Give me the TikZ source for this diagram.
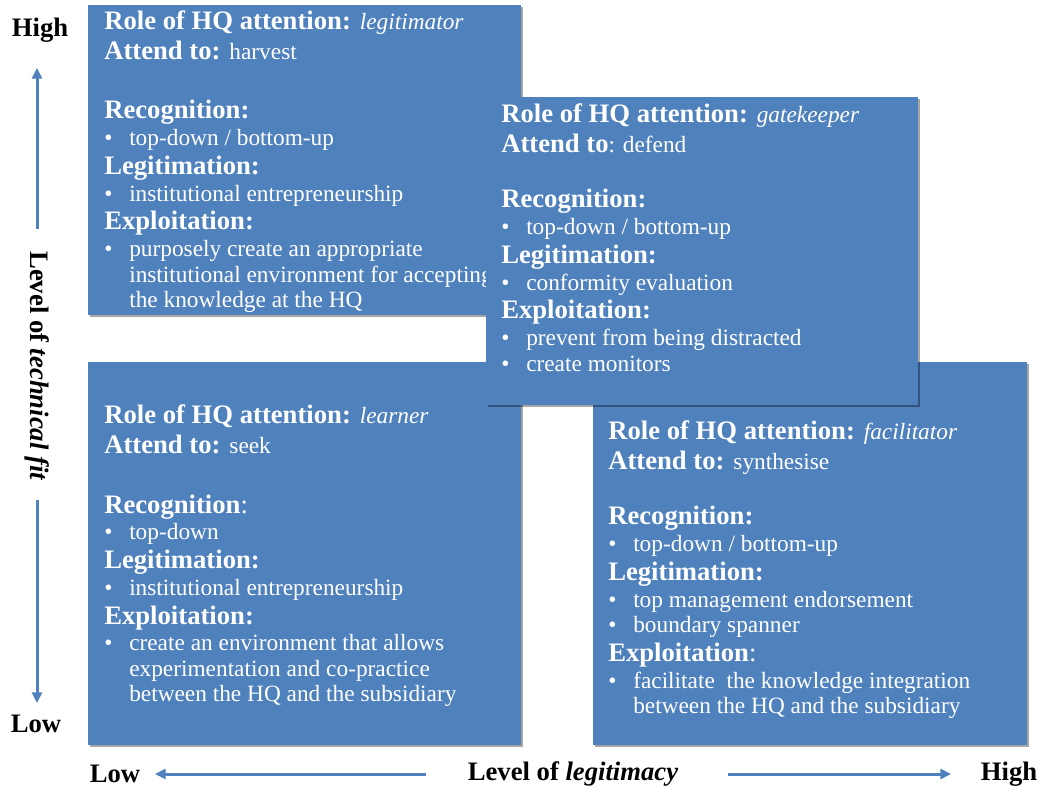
\documentclass[tikz,border=0pt]{standalone}
\usepackage{fontspec}
\setmainfont{Liberation Serif}
\usetikzlibrary{arrows.meta,shadows}
\definecolor{qblue}{HTML}{4F81BD}
% fonts: bold headings and regular body lines
\newcommand\hdf{\fontsize{20}{21.375}\selectfont\bfseries\upshape}
\newcommand\bdf{\fontsize{17.5}{19.125}\selectfont\mdseries\upshape}
% one line per paragraph, so each keeps its own baseline skip
\newcommand\qhead[1]{\hdf #1\par\vspace{1.125pt}}
\newcommand\qbul[1]{\bdf\makebox[18.75pt][l]{\textbullet}#1\par}
\newcommand\qcont[1]{\bdf\hspace*{18.75pt}#1\par}
\newcommand\qrole[1]{{\bdf\itshape #1}}
\newcommand\qplain[1]{{\bdf #1}}
\tikzset{
  quad/.style={fill=qblue, drop shadow={shadow xshift=1.5pt, shadow yshift=-1.5pt, opacity=0.35, fill=black}},
  boxtext/.style={anchor=base west, inner sep=0pt, text=white},
  axl/.style={inner sep=0pt, font=\fontsize{20}{24}\selectfont\bfseries},
  axarrow/.style={draw=qblue, line width=2.25pt, -{Triangle[length=8pt,width=7.5pt]}}
}
\begin{document}
\begin{tikzpicture}[x=0.75pt,y=-0.75pt]
\useasboundingbox[fill=white] (0,0) rectangle (1040,788);

% top left quadrant
\path[quad] (88,5) rectangle (521,315);
\node[boxtext] (tTL) at (104,30) {\begin{minipage}[t]{420pt}
\qhead{Role of HQ attention: \qrole{legitimator}}
\qhead{Attend to: \qplain{harvest}}
\vspace{21.75pt}
\qhead{Recognition:}
\qbul{top-down / bottom-up}
\qhead{Legitimation:}
\qbul{institutional entrepreneurship}
\qhead{Exploitation:}
\qbul{purposely create an appropriate}
\qcont{institutional environment for accepting}
\qcont{the knowledge at the HQ}
\end{minipage}};

% bottom left quadrant
\path[quad] (88,362) rectangle (521,745);
\node[boxtext] (tBL) at (104,423) {\begin{minipage}[t]{420pt}
\qhead{Role of HQ attention: \qrole{learner}}
\qhead{Attend to: \qplain{seek}}
\vspace{22.5pt}
\qhead{Recognition\mdseries:}
\qbul{top-down}
\qhead{Legitimation:}
\qbul{institutional entrepreneurship}
\qhead{Exploitation:}
\qbul{create an environment that allows}
\qcont{experimentation and co-practice}
\qcont{between the HQ and the subsidiary}
\end{minipage}};

% bottom right quadrant
\path[quad] (593,362) rectangle (1027,745);
\node[boxtext] (tBR) at (608,439) {\begin{minipage}[t]{420pt}
\qhead{Role of HQ attention: \qrole{facilitator}}
\qhead{Attend to: \qplain{synthesise}}
\vspace{19.5pt}
\qhead{Recognition:}
\qbul{top-down / bottom-up}
\qhead{Legitimation:}
\qbul{top management endorsement}
\qbul{boundary spanner}
\qhead{Exploitation\mdseries:}
\qbul{facilitate\ \ the knowledge integration}
\qcont{between the HQ and the subsidiary}
\end{minipage}};

% centre quadrant, lying over the others
\path[quad] (486,97) rectangle (918,405);
\node[boxtext] (tGK) at (501,123) {\begin{minipage}[t]{420pt}
\qhead{Role of HQ attention: \qrole{gatekeeper}}
\qhead{Attend to\qplain{: defend}}
\vspace{18.75pt}
\qhead{Recognition:}
\qbul{top-down / bottom-up}
\qhead{Legitimation:}
\qbul{conformity evaluation}
\qhead{Exploitation:}
\qbul{prevent from being distracted}
\qbul{create monitors}
\end{minipage}};

% vertical axis
\node[axl] (hiV) at (40,30) {High};
\node[axl] (loV) at (36,724) {Low};
\node[axl, rotate=-90] (vlab) at (37,366) {Level of \textit{technical fit}};
\coordinate (vu0) at (37,229);
\coordinate (vu1) at (37,68);
\coordinate (vd0) at (37,500);
\coordinate (vd1) at (37,703);
\draw[axarrow] (vu0) -- (vu1);
\draw[axarrow] (vd0) -- (vd1);

% horizontal axis
\node[axl] (loH) at (115,774) {Low};
\node[axl] (hlab) at (573,774) {Level of \textit{legitimacy}};
\node[axl] (hiH) at (1009,774) {High};
\coordinate (hl0) at (426,774);
\coordinate (hl1) at (155,774);
\coordinate (hr0) at (728,774);
\coordinate (hr1) at (951,774);
\draw[axarrow] (hl0) -- (hl1);
\draw[axarrow] (hr0) -- (hr1);
\end{tikzpicture}
\end{document}
